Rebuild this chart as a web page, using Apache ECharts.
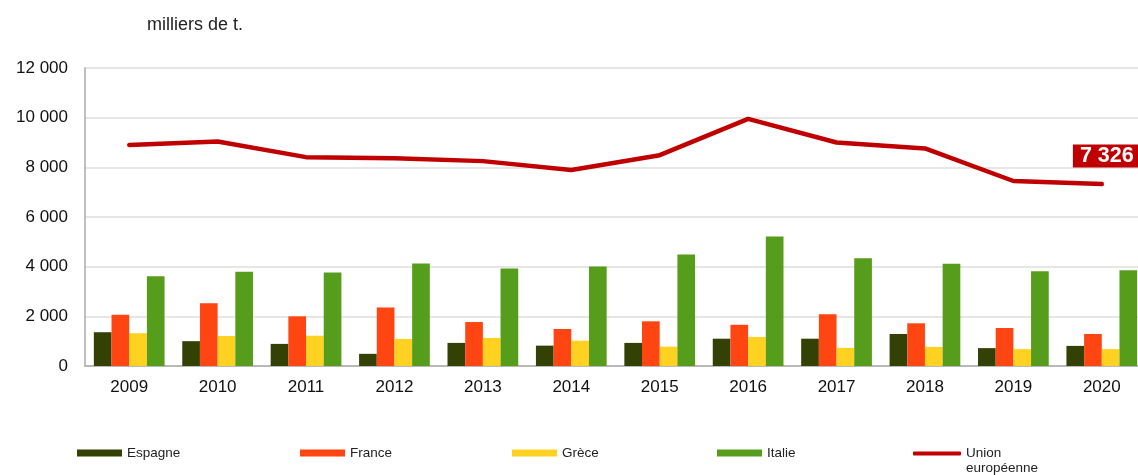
<!DOCTYPE html>
<html>
<head>
<meta charset="utf-8">
<script src="https://cdn.jsdelivr.net/npm/echarts@6/dist/echarts.min.js"></script>
<style>
  html, body { margin: 0; padding: 0; background: #fff; }
  #chart { width: 1138px; height: 475px; }
</style>
</head>
<body>
<div id="chart"></div>
<script>
// données (milliers de tonnes)
const years = ['2009', '2010', '2011', '2012', '2013', '2014', '2015', '2016', '2017', '2018', '2019', '2020']
const espagne = [1360, 1000, 890, 490, 930, 820, 930, 1100, 1100, 1290, 720, 810]
const france = [2060, 2530, 2000, 2360, 1770, 1490, 1800, 1660, 2080, 1720, 1530, 1290]
const grece = [1320, 1210, 1220, 1090, 1130, 1020, 780, 1170, 730, 770, 680, 680]
const italie = [3610, 3800, 3770, 4130, 3930, 4010, 4490, 5210, 4340, 4120, 3820, 3860]
const ue = [8900, 9040, 8410, 8370, 8250, 7890, 8490, 9950, 9000, 8760, 7450, 7326]
const yTicks = [0, 2000, 4000, 6000, 8000, 10000, 12000]

const font = '"Liberation Sans", Arial, sans-serif'
const fmt = v => String(v).replace(/\B(?=(\d{3})+(?!\d))/g, ' ')

const chart = echarts.init(document.getElementById('chart'))

const barSerie = (name, data, color) => ({
  name: name,
  type: 'bar',
  data: data,
  barGap: 0,
  barCategoryGap: '20%',
  itemStyle: { color: color },
  silent: true
})

const legendAt = (name, left, icon, w, h, extra) => Object.assign({
  data: [{ name: name, icon: icon }],
  left: left,
  top: 446,
  padding: 0,
  itemWidth: w,
  itemHeight: h,
  selectedMode: false,
  textStyle: { fontFamily: font, fontSize: 13.5, color: '#222' }
}, extra || {})

const option = {
  animation: false,
  color: ['#334105', '#FF4511', '#FFD221', '#579D1C', '#C00000'],
  title: {
    text: 'milliers de t.',
    left: 142,
    top: 11,
    textStyle: { fontFamily: font, fontSize: 18, fontWeight: 'normal', color: '#222' }
  },
  legend: [
    legendAt('Espagne', 77, 'rect', 45, 7),
    legendAt('France', 300, 'rect', 45, 7),
    legendAt('Grèce', 512, 'rect', 45, 7),
    legendAt('Italie', 717, 'rect', 45, 7),
    // ligne vide en tête pour garder "Union" au niveau du trait
    legendAt('Union européenne', 913, 'roundRect', 48, 4, {
      top: 431,
      formatter: () => '\nUnion\neuropéenne',
      textStyle: { fontFamily: font, fontSize: 13.5, color: '#222', lineHeight: 15 }
    })
  ],
  // la dernière colonne déborde un peu à droite, comme dans l'original
  grid: { left: 85, right: -8, top: 68, bottom: 109, outerBoundsMode: 'none' },
  xAxis: {
    type: 'category',
    data: years,
    axisLine: { lineStyle: { color: '#aaa', width: 1.5 } },
    axisTick: { inside: true, length: 5, lineStyle: { color: '#ccc' } },
    axisLabel: { fontFamily: font, fontSize: 17, color: '#111', margin: 13 }
  },
  yAxis: {
    type: 'value',
    min: yTicks[0],
    max: yTicks[yTicks.length - 1],
    interval: 2000,
    axisLine: { show: true, lineStyle: { color: '#aaa', width: 1.5 } },
    axisTick: { show: false },
    splitLine: { lineStyle: { color: '#dedede', width: 1.5 } },
    axisLabel: { fontFamily: font, fontSize: 17, color: '#111', margin: 17, formatter: fmt }
  },
  series: [
    barSerie('Espagne', espagne, '#334105'),
    barSerie('France', france, '#FF4511'),
    barSerie('Grèce', grece, '#FFD221'),
    barSerie('Italie', italie, '#579D1C'),
    {
      name: 'Union européenne',
      type: 'line',
      symbol: 'circle',
      symbolSize: 1,
      showSymbol: true,
      silent: true,
      lineStyle: { color: '#C00000', width: 4.5, cap: 'round', join: 'round' },
      itemStyle: { color: '#C00000' },
      data: ue.map((v, i) => i === ue.length - 1 ? {
        value: v,
        label: {
          show: true,
          position: 'top',
          distance: 16,
          offset: [5, 0],
          formatter: p => fmt(p.value),
          backgroundColor: '#C00000',
          color: '#fff',
          fontFamily: font,
          fontWeight: 'bold',
          fontSize: 21.5,
          padding: [1, 7, 0, 7]
        }
      } : v)
    }
  ]
}

chart.setOption(option)
</script>
</body>
</html>
